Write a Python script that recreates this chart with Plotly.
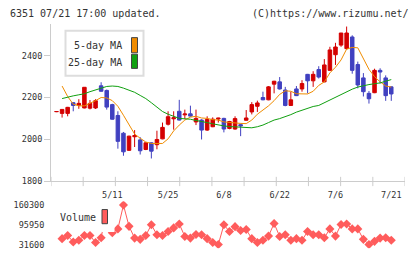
import plotly.graph_objects as go

W, H = 420, 259

# ---- data ----
opens  = [2132,2124,2124,2175,2163,2150,2149,2150,2256,2234,2166,2114,2029,1947,2012,1997,1951,1983,1974,2002,
          2072,2098,2134,2117,2122,2083,2092,2044,2060,2097,2100,2052,2049,2070,2091,2131,2158,2200,2189,2264,
          2275,2236,2162,2241,2241,2311,2280,2334,2275,2330,2405,2451,2434,2490,2358,2294,2220,2223,2330,2294,2251]
highs  = [2134,2143,2155,2178,2192,2250,2188,2192,2273,2238,2170,2134,2035,2017,2044,2010,1985,1985,2041,2080,
          2134,2134,2189,2142,2161,2142,2096,2110,2105,2103,2103,2088,2110,2075,2140,2178,2185,2228,2255,2280,
          2298,2251,2228,2255,2283,2313,2326,2350,2384,2443,2462,2509,2540,2498,2372,2317,2231,2338,2340,2306,2253]
lows   = [2130,2104,2110,2134,2146,2148,2143,2145,2228,2142,2094,1955,1921,1945,1963,1927,1948,1908,1952,2000,
          2066,2046,2090,2096,2108,2068,1999,2040,2058,2080,2033,2048,2046,2015,2089,2119,2131,2187,2187,2220,
          2238,2158,2160,2207,2228,2220,2251,2291,2273,2328,2356,2443,2432,2314,2244,2205,2171,2221,2267,2184,2184]
closes = [2133,2143,2153,2162,2172,2249,2172,2185,2230,2154,2096,1990,1940,2015,2018,1945,1983,1943,1999,2057,
          2108,2103,2092,2121,2111,2100,2044,2095,2096,2101,2049,2085,2099,2064,2102,2166,2174,2189,2251,2278,
          2241,2162,2189,2209,2267,2280,2311,2298,2356,2428,2442,2509,2509,2330,2260,2228,2194,2330,2322,2209,2217]
ma5  = [None,2255,2205,2168,2160,2160,2172,2185,2200,2198,2185,2158,2115,2068,2025,2005,1987,1980,1979,1980,
        2002,2040,2068,2092,2106,2110,2102,2100,2094,2092,2083,2080,2080,2076,2075,2092,2120,2140,2160,2185,
        2215,2232,2230,2218,2217,2217,2230,2258,2275,2318,2345,2380,2432,2440,2438,2385,2335,2300,2275,2255,2250]
ma25 = [None,2195,2203,2208,2213,2218,2228,2237,2246,2253,2255,2253,2245,2236,2225,2210,2195,2175,2152,2133,
        2120,2110,2100,2098,2096,2090,2086,2080,2074,2068,2064,2061,2060,2057,2055,2055,2060,2068,2080,2092,
        2099,2107,2118,2130,2140,2150,2157,2162,2175,2189,2203,2215,2228,2240,2250,2257,2262,2266,2270,2278,2286]
volume = [None,50700,61000,39900,45300,61000,61000,38000,53900,145000,70000,82600,160300,90900,52600,48500,61000,95900,63500,61000,
          74000,85800,98500,58000,52600,64400,63500,50700,38000,31600,95900,74000,89900,77200,80400,50700,38000,45300,59000,100400,
          58000,63500,45300,50700,45300,74000,63500,63500,53900,82600,59000,97000,98500,82600,82600,48500,31600,42000,52600,53900,45300]
date_pos = [10, 20, 30, 40, 50, 60]
date_labels = ["5/11", "5/25", "6/8", "6/22", "7/6", "7/21"]
price_ticks = [1800, 2000, 2200, 2400]
vol_ticks = [31600, 95950, 160300]
vol_tick_labels = ["31600", "95950", "160300"]

idx = list(range(len(opens)))

# ---- colours / fonts ----
RED = "#d40000"
BLUE = "#4040c0"
ORANGE = "#f08c00"
GREEN = "#10a010"
VOLC = "#ff5c5c"
AXC = "#cccccc"
TXT = "#333333"
MONO = "DejaVu Sans Mono"
TICKSIZE = 8.5

def px_x(p):
    return p / W

def px_y(p):
    return 1 - p / H

X0, X1 = -0.986, 62.46

fig = go.Figure()
fig.add_trace(go.Candlestick(
    x=idx, open=opens, high=highs, low=lows, close=closes,
    increasing=dict(line=dict(color=RED, width=1), fillcolor=RED),
    decreasing=dict(line=dict(color=BLUE, width=1), fillcolor=BLUE),
    whiskerwidth=0, xaxis="x", yaxis="y", hoverinfo="skip", showlegend=False))
fig.add_trace(go.Scatter(x=idx, y=ma5, mode="lines", line=dict(color=ORANGE, width=1),
                         xaxis="x", yaxis="y", showlegend=False, hoverinfo="skip"))
fig.add_trace(go.Scatter(x=idx, y=ma25, mode="lines", line=dict(color=GREEN, width=1),
                         xaxis="x", yaxis="y", showlegend=False, hoverinfo="skip"))
fig.add_trace(go.Scatter(x=idx, y=volume, mode="lines+markers",
                         line=dict(color=VOLC, width=1),
                         marker=dict(symbol="diamond", size=7, color=VOLC),
                         xaxis="x2", yaxis="y2", showlegend=False, hoverinfo="skip"))

xdom = [px_x(51), px_x(405)]
shapes = []
# x tick marks (gray, crossing axis line)
nt = 12
for k in range(nt):
    t = X0 + k * (X1 - X0) / (nt - 1)
    shapes.append(dict(type="line", xref="x", yref="paper", x0=t, x1=t,
                       y0=px_y(180), y1=px_y(189.5), line=dict(color=AXC, width=1)))
# price legend
shapes.append(dict(type="rect", xref="paper", yref="paper", x0=px_x(65.5), x1=px_x(143.5),
                   y0=px_y(76.5), y1=px_y(30.5), line=dict(color="#dddddd", width=2),
                   fillcolor="white", layer="above"))
shapes.append(dict(type="rect", xref="paper", yref="paper", x0=px_x(131.5), x1=px_x(137.5),
                   y0=px_y(53), y1=px_y(37.5), line=dict(color="#444444", width=1),
                   fillcolor=ORANGE, layer="above"))
shapes.append(dict(type="rect", xref="paper", yref="paper", x0=px_x(131.5), x1=px_x(137.5),
                   y0=px_y(69), y1=px_y(54.5), line=dict(color="#444444", width=1),
                   fillcolor=GREEN, layer="above"))
# volume legend
shapes.append(dict(type="rect", xref="paper", yref="paper", x0=px_x(101.3), x1=px_x(114.5),
                   y0=px_y(236.5), y1=px_y(205), line=dict(width=0),
                   fillcolor="white", layer="above"))
shapes.append(dict(type="rect", xref="paper", yref="paper", x0=px_x(102), x1=px_x(107.5),
                   y0=px_y(228), y1=px_y(213.5), line=dict(color="#444444", width=1),
                   fillcolor=VOLC, layer="above"))

annotations = [
    dict(text="6351 07/21 17:00 updated.", x=px_x(8), y=px_y(12.5), xref="paper", yref="paper",
         xanchor="left", yanchor="middle", showarrow=False, font=dict(family=MONO, size=10, color=TXT)),
    dict(text="(C)https://www.rizumu.net/", x=px_x(411), y=px_y(12.5), xref="paper", yref="paper",
         xanchor="right", yanchor="middle", showarrow=False, font=dict(family=MONO, size=10, color=TXT)),
    dict(text="5-day MA", x=px_x(124), y=px_y(46), xref="paper", yref="paper",
         xanchor="right", yanchor="middle", showarrow=False, font=dict(family=MONO, size=10, color=TXT)),
    dict(text="25-day MA", x=px_x(124), y=px_y(63), xref="paper", yref="paper",
         xanchor="right", yanchor="middle", showarrow=False, font=dict(family=MONO, size=10, color=TXT)),
    dict(text="Volume", x=px_x(58), y=px_y(222), xref="paper", yref="paper",
         xanchor="left", yanchor="middle", showarrow=False, font=dict(family=MONO, size=10, color=TXT)),
]

fig.update_layout(
    width=W, height=H, margin=dict(l=0, r=0, t=0, b=0),
    paper_bgcolor="white", plot_bgcolor="white",
    boxgap=0.1,
    showlegend=False,
    xaxis=dict(domain=xdom, range=[X0, X1], showgrid=False, zeroline=False,
               showline=True, linecolor=AXC, linewidth=1,
               tickvals=date_pos, ticktext=date_labels, ticks="outside", ticklen=6,
               tickcolor="rgba(0,0,0,0)", tickfont=dict(family=MONO, size=TICKSIZE, color=TXT),
               rangeslider=dict(visible=False), anchor="y", fixedrange=True),
    yaxis=dict(domain=[px_y(184.3), px_y(24)], range=[1800, 2550], showgrid=False, zeroline=False,
               showline=True, linecolor=AXC, linewidth=1, tickvals=price_ticks,
               ticks="outside", ticklen=6, tickcolor=AXC,
               tickfont=dict(family=MONO, size=TICKSIZE, color=TXT), anchor="x", fixedrange=True),
    xaxis2=dict(domain=xdom, range=[X0, X1], matches="x", showgrid=False, zeroline=False,
                showline=False, showticklabels=False, ticks="", anchor="y2"),
    yaxis2=dict(domain=[px_y(253), px_y(205)], range=[19812, 172740], showgrid=False, zeroline=False,
                showline=False, tickvals=vol_ticks, ticktext=vol_tick_labels, ticks="outside", ticklen=4,
                tickcolor="rgba(0,0,0,0)", tickfont=dict(family=MONO, size=TICKSIZE, color=TXT),
                anchor="x2", fixedrange=True),
    shapes=shapes, annotations=annotations,
)

fig.write_html("out.html")
